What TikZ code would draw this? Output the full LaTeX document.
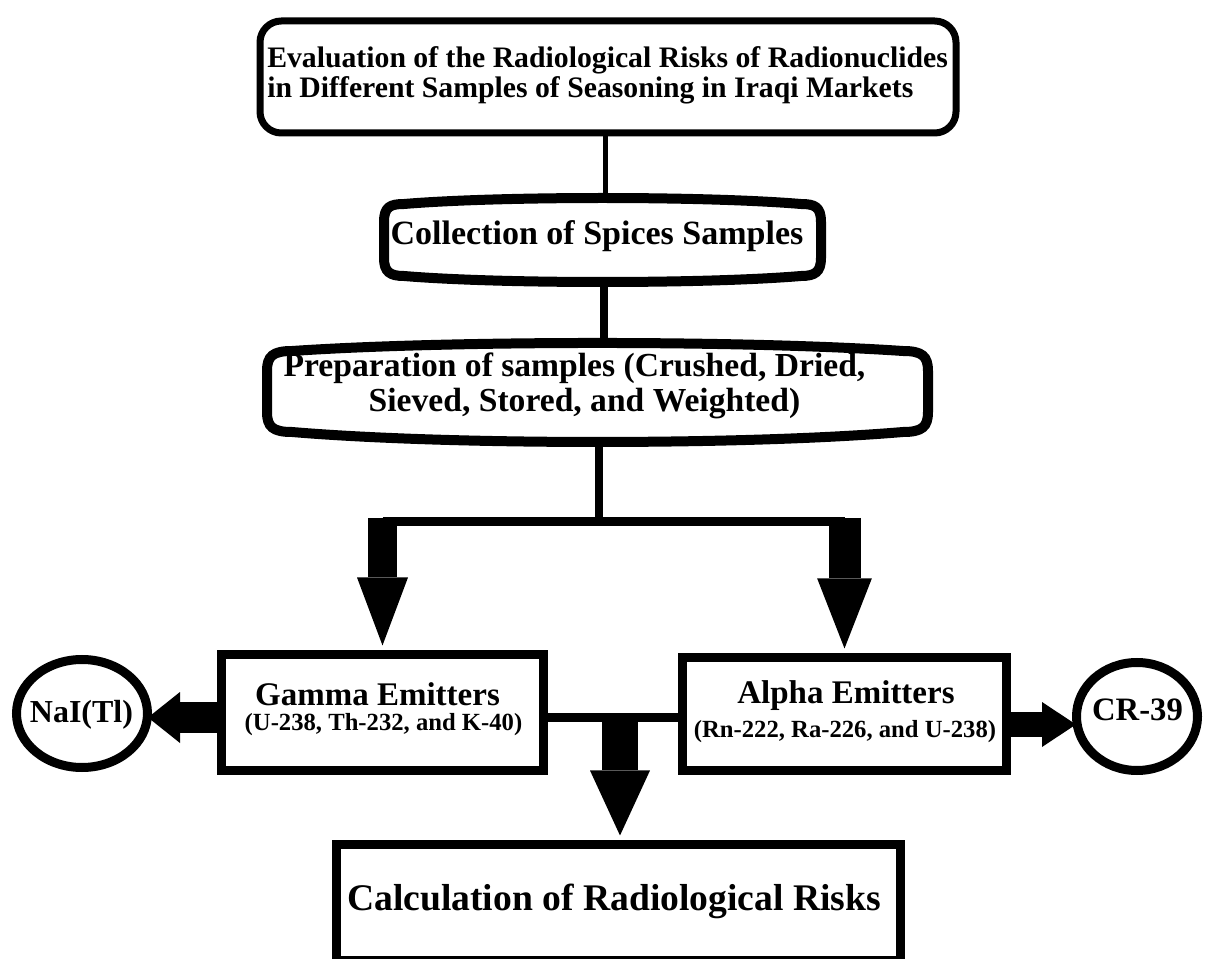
\documentclass[tikz,border=0pt]{standalone}
\usepackage{fontspec}
\setmainfont{Liberation Serif}
\usetikzlibrary{arrows.meta,fit,shapes.geometric}
\newcommand\myfs[1]{\fontsize{#1pt}{#1pt}\selectfont\bfseries}
\begin{document}
\begin{tikzpicture}[x=0.75pt,y=-0.75pt,
  lbl/.style={inner sep=0pt, anchor=base},
  frame/.style={inner sep=0pt},
  boxline/.style={draw, line width=6.75pt},
  wire/.style={line width=6pt},
  bigarrow/.style n args={3}{line width=#1, -{Triangle[width=#2,length=#3,line width=0pt]}},
  ring/.style={draw, ellipse, line width=6.75pt, inner sep=0pt}
]
\useasboundingbox (0,0) rectangle (1208,959);
\fill[white] (0,0) rectangle (1208,959);

% top box
\node[frame, fit={(260,21) (956,133)}, draw, line width=5.25pt, rounded corners=16pt] (top) {};
\node[lbl, anchor=base west, font={\myfs{22.3}}] (t1) at (267,68) {Evaluation of the Radiological Risks of Radionuclides};
\node[lbl, anchor=base west, font={\myfs{22.3}}] (t2) at (267,98) {in Different Samples of Seasoning in Iraqi Markets};

% collection box
\node[frame, fit={(384,198) (821,282)}] (coll) {};
\draw[line width=7.5pt] (384,222) .. controls (384,207) and (390,204) .. (404,204)
  .. controls (500,196) and (705,196) .. (801,204)
  .. controls (815,204) and (821,207) .. (821,222) -- (821,258)
  .. controls (821,272) and (815,276) .. (801,276)
  .. controls (705,284) and (500,284) .. (404,276)
  .. controls (390,276) and (384,272) .. (384,258) -- cycle;
\node[lbl, font={\myfs{25.5}}] (ct) at (597,245) {Collection of Spices Samples};

% preparation box
\node[frame, fit={(267,343) (928,442)}] (prep) {};
\draw[line width=7.5pt] (267,371) .. controls (267,356) and (273,351) .. (292,351)
  .. controls (450,340.3) and (745,340.3) .. (903,351)
  .. controls (922,351) and (928,356) .. (928,371) -- (928,412)
  .. controls (928,427) and (922,432) .. (903,432)
  .. controls (745,445.3) and (450,445.3) .. (292,432)
  .. controls (273,432) and (267,427) .. (267,412) -- cycle;
\node[lbl, font={\myfs{25.2}}] (p1) at (574.5,377) {Preparation of samples (Crushed, Dried,};
\node[lbl, font={\myfs{25.2}}] (p2) at (584.5,412) {Sieved, Stored, and Weighted)};

% emitter boxes
\node[frame, fit={(221.5,654.5) (543.5,770.5)}, boxline] (gamma) {};
\node[frame, fit={(682.5,657.5) (1006.5,770.5)}, boxline] (alpha) {};
\node[lbl, font={\myfs{24.75}}] (g1) at (377.5,705) {Gamma Emitters};
\node[lbl, font={\myfs{18.5}}] (g2) at (383.5,730) {(U-238, Th-232, and K-40)};
\node[lbl, font={\myfs{24.75}}] (a1) at (846,703) {Alpha Emitters};
\node[lbl, font={\myfs{18.5}}] (a2) at (845,737) {(Rn-222, Ra-226, and U-238)};

% detectors
\node[ring, minimum width=98.25pt, minimum height=81pt] (nai) at (82,713.5) {};
\node[ring, minimum width=90.75pt, minimum height=81pt] (cr) at (1137,716.5) {};
\node[lbl, font={\myfs{24}}] (nt) at (81.5,722) {NaI(Tl)};
\node[lbl, font={\myfs{24.5}}] (crt) at (1137.5,720) {CR-39};

% calculation box
\node[frame, fit={(336.5,844.5) (900.5,960)}, boxline] (calc) {};
\node[lbl, font={\myfs{28.2}}] (calct) at (614,910) {Calculation of Radiological Risks};

% connectors
\coordinate (c1) at (605,0);
\draw[line width=3.75pt] (top.south -| c1) -- (coll.north -| c1);
\coordinate (c2) at (604,0);
\draw[wire] (coll.south -| c2) -- (prep.north -| c2);
\coordinate (split) at (599,522);
\draw[wire] (prep.south -| split) -- (split);
\draw[line width=6.75pt] (gamma.north |- split) -- (alpha.north |- split);
\coordinate (sp2) at (0,518);
\draw[bigarrow={21.75pt}{38.25pt}{51pt}, shorten >=3.4pt] (gamma.north |- sp2) -- (gamma.north);
\draw[bigarrow={24pt}{41pt}{52.5pt}, shorten >=3.4pt] (alpha.north |- sp2) -- (alpha.north);

\coordinate (ym) at (620,717);
\draw[line width=6.75pt] (gamma.east |- ym) -- (alpha.west |- ym);
\draw[bigarrow={27pt}{45pt}{48.75pt}, shorten >=3.4pt] (ym) -- (calc.north -| ym);

\coordinate (yl) at (0,717.5);
\draw[bigarrow={23.25pt}{38.25pt}{24pt}, shorten >=-3pt] (gamma.west |- yl) -- (nai.east |- yl);
\coordinate (yr) at (0,724.5);
\draw[bigarrow={18.75pt}{33.75pt}{25.5pt}, shorten >=-3pt] (alpha.east |- yr) -- (cr.west |- yr);
\end{tikzpicture}
\end{document}
